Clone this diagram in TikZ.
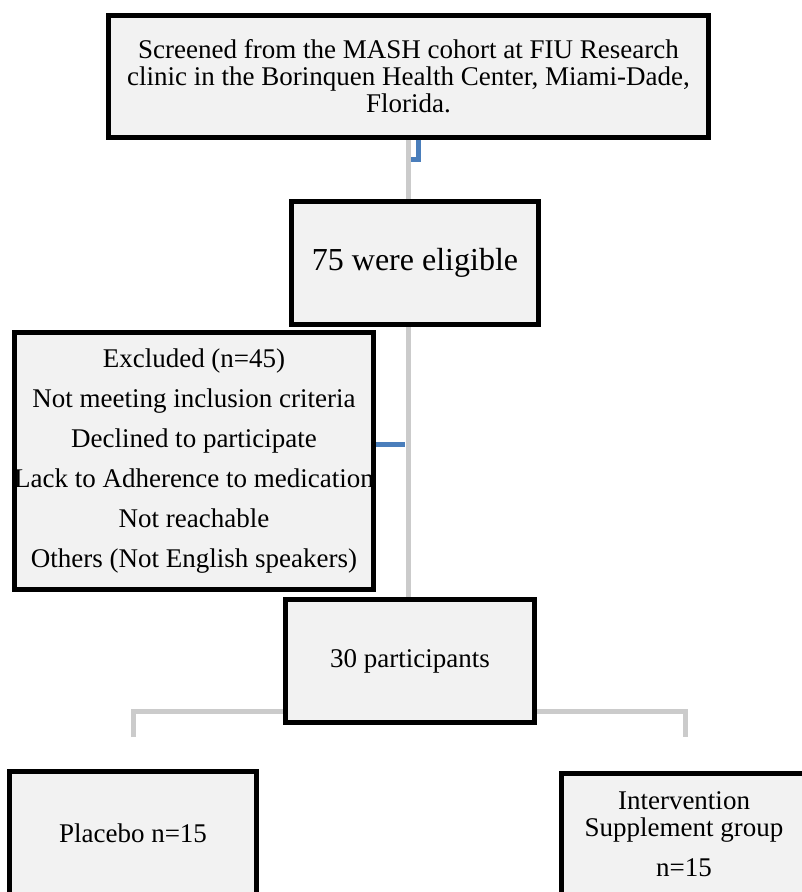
\documentclass[tikz,border=0pt]{standalone}
\usepackage{fontspec}
\setmainfont{Liberation Serif}
\usetikzlibrary{backgrounds}
\definecolor{boxfill}{HTML}{F2F2F2}
\definecolor{greyline}{HTML}{CBCBCB}
\definecolor{blueline}{HTML}{4A7EBB}
\begin{document}
\begin{tikzpicture}[x=1pt,y=-1pt,
  box/.style={draw=black,line width=5pt,fill=boxfill,inner sep=0pt,align=center,
    font=\fontsize{27}{27}\selectfont},
  greyconn/.style={draw=greyline,line width=5pt},
  blueconn/.style={draw=blueline,line width=5pt}]
\useasboundingbox (0,0) rectangle (802,892);
\node[box,minimum width=600pt,minimum height=122pt] (top) at (408.5,76.5)
  {Screened from the MASH cohort at FIU Research\\clinic in the Borinquen Health Center, Miami-Dade,\\Florida.};
\node[box,minimum width=247pt,minimum height=123pt,font=\fontsize{32}{34}\selectfont] (elig) at (415,263) {75 were eligible};
\node[box,minimum width=357pt,minimum height=257pt,font=\fontsize{27}{40}\selectfont] (excl) at (194,461)
  {Excluded (n=45)\\Not meeting inclusion criteria\\Declined to participate\\Lack to Adherence to medication\\Not reachable\\Others (Not English speakers)};
\node[box,minimum width=249pt,minimum height=123pt] (part) at (410,661) {30 participants};
\node[box,minimum width=247pt,minimum height=123pt] (plac) at (133,833) {Placebo n=15};
\node[box,minimum width=245pt,minimum height=121pt] (intv) at (684,834)
  {Intervention\\Supplement group\\[13pt]n=15};
\coordinate (hookA) at (418.5,137.5);
\coordinate (hookB) at (418.5,159.5);
\coordinate (hookC) at (411,159.5);
\coordinate (spine) at (405,444);
\coordinate (brL) at (133.5,737);
\coordinate (brR) at (685.5,737);
\begin{scope}[on background layer]
  \draw[greyconn] (top.south) -- (top.south |- part.north);
  \draw[blueconn] (hookA) -- (hookB) -- (hookC);
  \draw[blueconn] (excl.east |- spine) -- (spine);
  \draw[greyconn] (brL) -- ++(0,-26) -| (brR);
\end{scope}
\end{tikzpicture}
\end{document}
